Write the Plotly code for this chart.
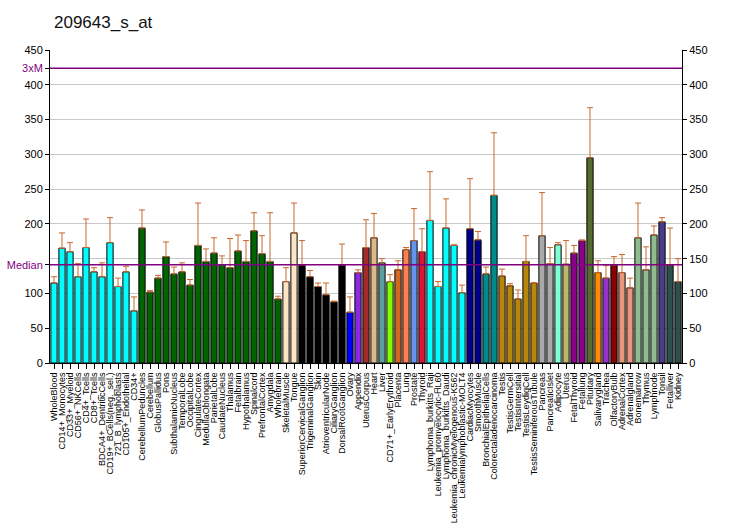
import plotly.graph_objects as go

categories = ["WholeBlood","CD14+_Monocytes","CD33+_Myeloid","CD56+_NKCells","CD4+_Tcells","CD8+_Tcells",
"BDCA4+_DentriticCells","CD19+_BCells(neg._sel.)","721_B_lymphoblasts","CD105+_Endothelial","CD34+",
"CerebellumPeduncles","Cerebellum","GlobusPallidus","Pons","SubthalamicNucleus","TemporalLobe","OccipitalLobe",
"CingulateCortex","MedullaOblongata","ParietalLobe","CaudateNucleus","Thalamus","Fetalbrain","Hypothalamus",
"Spinalcord","PrefrontalCortex","Amygdala","Wholebrain","SkeletalMuscle","Tongue","SuperiorCervicalGanglion",
"TrigeminalGanglion","Skin","AtrioventricularNode","CiliaryGanglion","DorsalRootGanglion","Ovary","Appendix",
"UterusCorpus","Heart","Liver","CD71+_EarlyErythroid","Placenta","Lung","Prostate","Thyroid",
"Lymphoma_burkitts_Raji","Leukemia_promyelocytic-HL60","Lymphoma_burkitts_Daudi",
"Leukemia_chronicMyelogenous-K562","Leukemialymphoblastic-MOLT4","CardiacMyocytes","SmoothMuscle",
"BronchialEpithelialCells","Colorectaladenocarcinoma","Testis","TestisGermCell","TestisIntersitial",
"TestisLeydigCell","TestisSeminiferousTubule","Pancreas","PancreaticIslet","Adipocyte","Uterus","FetalThyroid",
"Fetallung","Pituitary","Salivarygland","Trachea","OlfactoryBulb","AdrenalCortex","Adrenalgland","Bonemarrow",
"Thymus","Lymphnode","Tonsil","Fetalliver","Kidney"]

values = [115,165,160,124,166,131,124,173,110,131,75,
194,102,122,153,128,131,112,169,146,158,141,137,161,146,190,157,146,92,117,187,
141,124,110,98,88,141,73,130,166,180,144,117,134,163,176,160,205,110,194,169,101,
193,177,128,241,125,111,92,146,115,183,143,170,142,158,176,295,130,122,141,130,108,180,134,184,203,141,117]

err_top = [124,187,173,143,207,137,144,209,122,139,95,
220,104,126,174,138,144,120,230,164,180,154,179,184,176,216,183,216,96,137,230,
176,133,115,115,89,171,95,134,206,215,150,127,147,166,222,193,275,117,236,170,112,
265,189,138,331,135,114,105,183,115,245,166,173,176,169,177,367,147,140,153,156,122,230,167,197,209,194,150]

colors = (["#00FFFF"]*11 + ["#006400"]*18 + ["#FFE4C4"]*2 + ["#000000"]*6 +
          ["#0000FF","#8A2BE2","#A52A2A","#DEB887","#5F9EA0","#7FFF00","#D2691E","#FF7F50","#6495ED","#DC143C"] +
          ["#00FFFF"]*5 + ["#00008B"]*2 + ["#008B8B"]*2 + ["#B8860B"]*5 + ["#A9A9A9"]*2 +
          ["#7FFFD4","#BDB76B","#8B008B","#8B008B","#556B2F","#FF8C00","#9932CC","#8B0000",
           "#E9967A","#E9967A","#8FBC8F","#8FBC8F","#8FBC8F","#483D8B","#2F4F4F","#2F4F4F"])

median = 141.3
xs = list(range(len(categories)))

fig = go.Figure()
fig.add_trace(go.Bar(
    x=xs, y=values, marker=dict(color=colors, line=dict(color="black", width=1)),
    error_y=dict(type="data", symmetric=False,
                 array=[max(t - v, 0) for t, v in zip(err_top, values)],
                 arrayminus=[0]*len(values), color="#C8682C", thickness=1, width=3),
    showlegend=False, hoverinfo="skip"))
fig.add_trace(go.Scatter(x=[0], y=[0], yaxis="y2", mode="markers",
                         marker=dict(opacity=0), showlegend=False, hoverinfo="skip"))

fig.add_shape(type="line", xref="paper", yref="y", x0=0, x1=1, y0=median, y1=median,
              line=dict(color="#800080", width=1.5))
fig.add_shape(type="line", xref="paper", yref="y", x0=0, x1=1, y0=3*median, y1=3*median,
              line=dict(color="#800080", width=1.5))

purple = "#800080"
left_vals = [0, 50, 100, median, 200, 250, 300, 350, 400, 3*median, 450]
left_text = ["0", "50", "100", f"<span style='color:{purple}'>Median</span>", "200", "250", "300",
             "350", "400", f"<span style='color:{purple}'>3xM</span>", "450"]

fig.update_layout(
    width=732, height=530,
    margin=dict(l=50, r=50, t=50, b=167, autoexpand=False),
    paper_bgcolor="white", plot_bgcolor="white",
    font=dict(family="Liberation Sans, Arial, sans-serif", color="black", size=11),
    title=dict(text="209643_s_at", x=0, xref="paper", xanchor="left", y=0.958, yanchor="middle",
               font=dict(size=17, color="#111111"), pad=dict(l=4)),
    bargap=0.22,
    xaxis=dict(range=[-0.5, len(xs)-0.5], tickvals=xs, ticktext=categories, tickangle=-90,
               tickfont=dict(size=9), ticks="outside", ticklen=5, tickcolor="black", automargin=False,
               showline=True, linecolor="black", linewidth=1, showgrid=False, zeroline=False),
    yaxis=dict(range=[0, 450], tickvals=left_vals, ticktext=left_text, ticks="outside", ticklen=4,
               tickcolor="black", showline=True, linecolor="black", linewidth=1, automargin=False,
               showgrid=False, zeroline=False, tickfont=dict(size=11)),
    yaxis2=dict(range=[0, 450], overlaying="y", side="right", tickvals=[0,50,100,150,200,250,300,350,400,450],
                ticks="outside", ticklen=4, tickcolor="black", showline=True, linecolor="black", linewidth=1,
                showgrid=True, gridcolor="#C8C8C8", gridwidth=1, zeroline=False, tickfont=dict(size=11),
                automargin=False, layer="below traces"),
)
fig.write_html("out.html")
